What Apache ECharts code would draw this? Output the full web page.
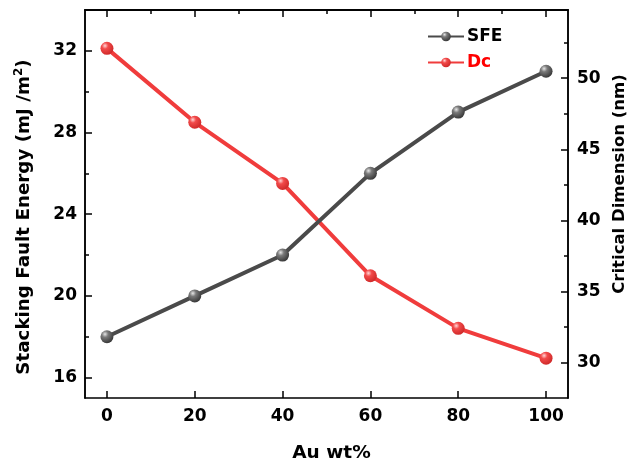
<!DOCTYPE html>
<html>
<head>
<meta charset="utf-8">
<script src="https://cdn.jsdelivr.net/npm/echarts@6/dist/echarts.min.js"></script>
<style>
  html, body { margin: 0; padding: 0; background: #fff; }
  #chart { width: 630px; height: 465px; }
</style>
</head>
<body>
<div id="chart"></div>
<script>
// ===== data =====
const auWt = [0, 20, 40, 60, 80, 100];
const sfe = [18, 20, 22, 26, 29, 31];
const dc = [52.1, 46.9, 42.6, 36.1, 32.4, 30.3];

const xMajor = [0, 20, 40, 60, 80, 100];
const xMinor = [10, 30, 50, 70, 90];
const leftMajor = [16, 20, 24, 28, 32];
const leftMinor = [18, 22, 26, 30];
const rightMajor = [30, 35, 40, 45, 50];
const rightMinor = [32.5, 37.5, 42.5, 47.5, 52.5];

const FONT = 'DejaVu Sans';
const X_RANGE = [-5, 105];
const L_RANGE = [15, 34];
const R_RANGE = [27.5, 54.8];

const chart = echarts.init(document.getElementById('chart'));

// gradient balls for the markers
function ball(light, mid, dark) {
    return new echarts.graphic.RadialGradient(0.35, 0.3, 0.7, [
        { offset: 0, color: light },
        { offset: 0.35, color: mid },
        { offset: 1, color: dark },
    ]);
}

// helper for a tick-only axis (used for the minor ticks and the frame)
function tickAxis(base, values, len, extra) {
    return Object.assign({
        type: 'value',
        min: base[0],
        max: base[1],
        axisLine: { show: true, onZero: false, lineStyle: { color: '#000', width: 1.5 } },
        axisTick: { show: true, inside: true, length: len, customValues: values,
            lineStyle: { color: '#000', width: 1.5 } },
        axisLabel: { show: false },
        splitLine: { show: false },
    }, extra);
}

const labelStyle = { color: '#000', fontFamily: FONT, fontWeight: 'bold', fontSize: 17 };
const nameStyle = { color: '#000', fontFamily: FONT, fontWeight: 'bold', fontSize: 17 };

const option = {
    animation: false,
    backgroundColor: '#fff',
    grid: { left: 85, right: 62, top: 10, bottom: 67, outerBoundsMode: 'none', containLabel: false },
    legend: {
        orient: 'vertical',
        left: 427,
        top: 28,
        padding: 0,
        itemWidth: 36,
        itemHeight: 12,
        itemGap: 9,
        textStyle: { fontFamily: FONT, fontWeight: 'bold', fontSize: 17, padding: [0, 0, 0, -2] },
        data: [
            { name: 'SFE', textStyle: { color: '#000' } },
            { name: 'Dc', textStyle: { color: '#f00' } },
        ],
    },
    xAxis: [
        Object.assign(tickAxis(X_RANGE, xMajor, 7), {
            name: 'Au wt%',
            nameLocation: 'middle',
            nameGap: 46,
            nameTextStyle: Object.assign({}, nameStyle, { fontSize: 18.5, padding: [0, 0, 0, 10] }),
            axisLabel: Object.assign({ show: true, margin: 10, customValues: xMajor }, labelStyle),
        }),
        tickAxis(X_RANGE, xMinor, 4),
        tickAxis(X_RANGE, xMajor, 7, { position: 'top' }),
        tickAxis(X_RANGE, xMinor, 4, { position: 'top' }),
    ],
    yAxis: [
        Object.assign(tickAxis(L_RANGE, leftMajor, 7), {
            position: 'left',
            name: 'Stacking Fault Energy (mJ /m{sup|2})',
            nameLocation: 'middle',
            nameRotate: 90,
            nameGap: 50,
            nameTextStyle: Object.assign({}, nameStyle, {
                fontSize: 18.3,
                padding: [0, 26, 0, 0],
                rich: { sup: { fontFamily: FONT, fontWeight: 'bold', fontSize: 12, color: '#000', padding: [0, 0, 10, 0] } },
            }),
            axisLabel: Object.assign({ show: true, margin: 8, customValues: leftMajor }, labelStyle),
        }),
        Object.assign(tickAxis(R_RANGE, rightMajor, 7), {
            position: 'right',
            name: 'Critical Dimension (nm)',
            nameLocation: 'middle',
            nameRotate: 90,
            nameGap: 40,
            nameTextStyle: Object.assign({}, nameStyle, { fontSize: 16.5, padding: [0, 0, 0, 40] }),
            axisLabel: Object.assign({ show: true, margin: 9, customValues: rightMajor }, labelStyle),
        }),
        tickAxis(L_RANGE, leftMinor, 4, { position: 'left' }),
        tickAxis(R_RANGE, rightMinor, 4, { position: 'right' }),
    ],
    series: [
        {
            name: 'SFE',
            type: 'line',
            xAxisIndex: 0,
            yAxisIndex: 0,
            data: auWt.map((x, i) => [x, sfe[i]]),
            symbol: 'circle',
            symbolSize: 13,
            lineStyle: { color: '#4a4a4a', width: 4 },
            itemStyle: { color: ball('#e6e6e6', '#7a7a7a', '#3a3a3a'), borderWidth: 0 },
            z: 3,
        },
        {
            name: 'Dc',
            type: 'line',
            xAxisIndex: 0,
            yAxisIndex: 1,
            data: auWt.map((x, i) => [x, dc[i]]),
            symbol: 'circle',
            symbolSize: 13,
            lineStyle: { color: '#f03c3c', width: 4 },
            itemStyle: { color: ball('#ffd6d6', '#f24a4a', '#d02a2a'), borderWidth: 0 },
            z: 2,
        },
    ],
};

chart.setOption(option);
</script>
</body>
</html>
